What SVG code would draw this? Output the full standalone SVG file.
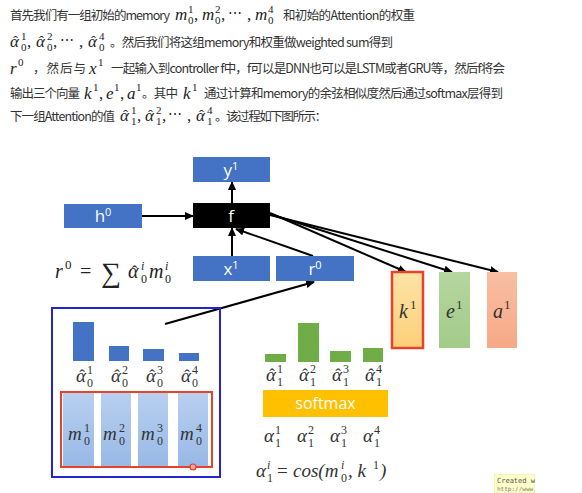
<svg xmlns="http://www.w3.org/2000/svg" width="582" height="493" viewBox="0 0 582 493">
<style>
.t{font-family:"Noto Sans CJK SC","Noto Sans",sans-serif;font-size:12.5px;fill:#333}
.m{font-family:"Liberation Serif","DejaVu Serif",serif;font-style:italic;font-size:17px;fill:#222}
.u{font-family:"Liberation Serif","DejaVu Serif",serif;font-size:17px;fill:#222}
.h{font-family:"Liberation Serif","DejaVu Serif",serif;font-size:15px;fill:#222;text-anchor:middle}
.hd{font-family:"Liberation Serif","DejaVu Serif",serif;font-size:17px;fill:#333;text-anchor:middle}
.s{font-family:"Liberation Serif","DejaVu Serif",serif;font-size:11px;fill:#222}
.si{font-family:"Liberation Serif","DejaVu Serif",serif;font-style:italic;font-size:11px;fill:#222}
.d{font-family:"DejaVu Serif",serif;font-size:14px;fill:#222}
.bx{fill:#4472c4}
.bt{font-family:"Open Sans","Liberation Sans",sans-serif;font-size:17px;fill:#fff;text-anchor:middle}
.bs{font-size:11px}
.ln{stroke:#000;stroke-width:2;fill:none}
.dm{font-family:"Liberation Serif","DejaVu Serif",serif;font-style:italic;font-size:19px;fill:#333}
.ds{font-family:"Liberation Serif","DejaVu Serif",serif;font-size:12px;fill:#333}
.dsi{font-family:"Liberation Serif","DejaVu Serif",serif;font-style:italic;font-size:12px;fill:#333}
.mb{fill:url(#gm)}
</style>
<defs>
<marker id="ah" markerWidth="9" markerHeight="8" refX="8" refY="4" orient="auto" markerUnits="userSpaceOnUse">
<path d="M0,0 L9,4 L0,8 Z" fill="#000"/>
</marker>
<linearGradient id="gm" x1="0" y1="0" x2="0" y2="1">
<stop offset="0" stop-color="#b9cff0"/><stop offset="1" stop-color="#97b9e6"/>
</linearGradient>
<linearGradient id="gk" x1="0" y1="0" x2="0" y2="1">
<stop offset="0" stop-color="#fde3a6"/><stop offset="1" stop-color="#fcd07a"/>
</linearGradient>
<linearGradient id="ge" x1="0" y1="0" x2="0" y2="1">
<stop offset="0" stop-color="#b5d6a0"/><stop offset="1" stop-color="#a3cb88"/>
</linearGradient>
<linearGradient id="ga" x1="0" y1="0" x2="0" y2="1">
<stop offset="0" stop-color="#f9bea2"/><stop offset="1" stop-color="#f6a986"/>
</linearGradient>
<clipPath id="cw"><rect x="494" y="474" width="41" height="19"/></clipPath>
</defs>

<g id="paragraph">
<!-- line 1 -->
<text class="t" x="10" y="20" textLength="160" lengthAdjust="spacing">首先我们有一组初始的memory</text>
<text class="m" x="175" y="20">m</text><text class="s" x="188" y="13">1</text><text class="s" x="188" y="24">0</text><text class="u" x="194" y="20">,</text>
<text class="m" x="202" y="20">m</text><text class="s" x="215" y="13">2</text><text class="s" x="215" y="24">0</text><text class="u" x="221" y="20">,</text>
<text class="d" x="228" y="18">⋯</text><text class="u" x="247" y="20">,</text>
<text class="m" x="255" y="20">m</text><text class="s" x="268" y="13">4</text><text class="s" x="268" y="24">0</text>
<text class="t" x="283" y="20" textLength="132" lengthAdjust="spacing">和初始的Attention的权重</text>
<!-- line 2 -->
<text class="m" x="10" y="47">α</text><text class="h" x="15.5" y="46">ˆ</text><text class="s" x="21" y="40">1</text><text class="s" x="21" y="51">0</text><text class="u" x="27" y="47">,</text>
<text class="m" x="36" y="47">α</text><text class="h" x="41.5" y="46">ˆ</text><text class="s" x="47" y="40">2</text><text class="s" x="47" y="51">0</text><text class="u" x="53" y="47">,</text>
<text class="d" x="60" y="45">⋯</text><text class="u" x="79" y="47">,</text>
<text class="m" x="88" y="47">α</text><text class="h" x="93.5" y="46">ˆ</text><text class="s" x="99" y="40">4</text><text class="s" x="99" y="51">0</text>
<text class="t" x="110" y="47" textLength="283" lengthAdjust="spacing">。然后我们将这组memory和权重做weighted sum得到</text>
<!-- line 3 -->
<text class="m" x="10" y="74">r</text><text class="s" x="18" y="66">0</text>
<text class="t" x="33" y="73" textLength="53" lengthAdjust="spacing">，然后与</text>
<text class="m" x="89" y="74">x</text><text class="s" x="98" y="66">1</text>
<text class="t" x="111" y="73" textLength="394" lengthAdjust="spacing">一起输入到controller f中，f可以是DNN也可以是LSTM或者GRU等，然后f将会</text>
<!-- line 4 -->
<text class="t" x="10" y="98" textLength="70" lengthAdjust="spacing">输出三个向量</text>
<text class="m" x="84" y="99">k</text><text class="s" x="93" y="91">1</text><text class="u" x="99" y="99">,</text>
<text class="m" x="106" y="99">e</text><text class="s" x="114" y="91">1</text><text class="u" x="120" y="99">,</text>
<text class="m" x="127" y="99">a</text><text class="s" x="136" y="91">1</text>
<text class="t" x="142" y="98" textLength="36" lengthAdjust="spacing">。其中</text>
<text class="m" x="183" y="99">k</text><text class="s" x="192" y="91">1</text>
<text class="t" x="204" y="98" textLength="299" lengthAdjust="spacing">通过计算和memory的余弦相似度然后通过softmax层得到</text>
<!-- line 5 -->
<text class="t" x="10" y="121" textLength="105" lengthAdjust="spacing">下一组Attention的值</text>
<text class="m" x="120" y="121">α</text><text class="h" x="125.5" y="120">ˆ</text><text class="s" x="131" y="114">1</text><text class="s" x="131" y="125">1</text><text class="u" x="137" y="121">,</text>
<text class="m" x="145" y="121">α</text><text class="h" x="150.5" y="120">ˆ</text><text class="s" x="156" y="114">2</text><text class="s" x="156" y="125">1</text><text class="u" x="162" y="121">,</text>
<text class="d" x="168" y="119">⋯</text><text class="u" x="187" y="121">,</text>
<text class="m" x="196" y="121">α</text><text class="h" x="201.5" y="120">ˆ</text><text class="s" x="207" y="114">4</text><text class="s" x="207" y="125">1</text>
<text class="t" x="215" y="121" textLength="112" lengthAdjust="spacing">。该过程如下图所示：</text>
</g>

<g id="connectors">
<line class="ln" x1="142" y1="216" x2="193" y2="216" marker-end="url(#ah)"/>
<line class="ln" x1="232" y1="203" x2="232" y2="182" marker-end="url(#ah)"/>
<line class="ln" x1="232" y1="256" x2="232" y2="228" marker-end="url(#ah)"/>
<line class="ln" x1="313" y1="256" x2="236" y2="229" marker-end="url(#ah)"/>
<line class="ln" x1="270" y1="213" x2="406" y2="272" marker-end="url(#ah)"/>
<line class="ln" x1="270" y1="214" x2="452" y2="272" marker-end="url(#ah)"/>
<line class="ln" x1="270" y1="215" x2="498" y2="272" marker-end="url(#ah)"/>
<line class="ln" x1="165" y1="324" x2="314" y2="282" marker-end="url(#ah)"/>
</g>

<g id="node-y1"><rect class="bx" x="193" y="157" width="77" height="25"/><text class="bt" x="231" y="176">y<tspan class="bs" dy="-6">1</tspan></text></g>
<g id="node-f"><rect fill="#000" x="193" y="203" width="77" height="25"/><text class="bt" x="231" y="222">f</text></g>
<g id="node-h0"><rect class="bx" x="64" y="204" width="78" height="24"/><text class="bt" x="103" y="222">h<tspan class="bs" dy="-6">0</tspan></text></g>
<g id="node-x1"><rect class="bx" x="193" y="256" width="77" height="25"/><text class="bt" x="231" y="275">x<tspan class="bs" dy="-6">1</tspan></text></g>
<g id="node-r0"><rect class="bx" x="276" y="256" width="78" height="25"/><text class="bt" x="315" y="275">r<tspan class="bs" dy="-6">0</tspan></text></g>

<g id="formula-r0">
<text class="m" x="55" y="278" style="font-size:20px">r</text><text class="s" x="65" y="269" style="font-size:13px">0</text>
<text class="u" x="80" y="278" style="font-size:20px">=</text>
<text class="u" x="101" y="282" style="font-size:28px">∑</text>
<text class="m" x="128" y="278" style="font-size:20px">α</text><text class="h" x="134.5" y="277" style="font-size:17px">ˆ</text><text class="si" x="141" y="270" style="font-size:12px">i</text><text class="s" x="141" y="283" style="font-size:12px">0</text>
<text class="m" x="149" y="278" style="font-size:20px">m</text><text class="si" x="165" y="270" style="font-size:12px">i</text><text class="s" x="165" y="283" style="font-size:12px">0</text>
</g>

<g id="node-k1"><rect x="392" y="272" width="31" height="76" fill="url(#gk)" stroke="#e8412c" stroke-width="2.5"/><text class="dm" x="399" y="318" style="font-size:20px">k</text><text class="ds" x="410" y="309" style="font-size:13px">1</text></g>
<g id="node-e1"><rect x="439" y="272" width="31" height="76" fill="url(#ge)"/><text class="dm" x="446" y="318" style="font-size:20px">e</text><text class="ds" x="456" y="309" style="font-size:13px">1</text></g>
<g id="node-a1"><rect x="487" y="272" width="30" height="76" fill="url(#ga)"/><text class="dm" x="493" y="318" style="font-size:20px">a</text><text class="ds" x="504" y="309" style="font-size:13px">1</text></g>

<g id="memory-group">
<rect x="52" y="308" width="168" height="169" fill="none" stroke="#2424d0" stroke-width="2"/>
<rect class="bx" x="73" y="322" width="21" height="39"/>
<rect class="bx" x="109" y="346" width="20" height="15"/>
<rect class="bx" x="143" y="349" width="21" height="12"/>
<rect class="bx" x="179" y="353" width="20" height="8"/>
<text class="dm" x="76" y="382">α</text><text class="hd" x="82" y="381">ˆ</text><text class="ds" x="87" y="374">1</text><text class="ds" x="87" y="387">0</text>
<text class="dm" x="111" y="382">α</text><text class="hd" x="117" y="381">ˆ</text><text class="ds" x="122" y="374">2</text><text class="ds" x="122" y="387">0</text>
<text class="dm" x="146" y="382">α</text><text class="hd" x="152" y="381">ˆ</text><text class="ds" x="157" y="374">3</text><text class="ds" x="157" y="387">0</text>
<text class="dm" x="181" y="382">α</text><text class="hd" x="187" y="381">ˆ</text><text class="ds" x="192" y="374">4</text><text class="ds" x="192" y="387">0</text>
<rect class="mb" x="63" y="393" width="31" height="73"/>
<rect class="mb" x="101" y="393" width="30" height="73"/>
<rect class="mb" x="138" y="393" width="30" height="73"/>
<rect class="mb" x="178" y="393" width="30" height="73"/>
<rect x="61" y="392" width="151" height="75" fill="none" stroke="#e8412c" stroke-width="2"/>
<text class="dm" x="68" y="440">m</text><text class="ds" x="84" y="432">1</text><text class="ds" x="84" y="445">0</text>
<text class="dm" x="103" y="440">m</text><text class="ds" x="119" y="432">2</text><text class="ds" x="119" y="445">0</text>
<text class="dm" x="141" y="440">m</text><text class="ds" x="157" y="432">3</text><text class="ds" x="157" y="445">0</text>
<text class="dm" x="180" y="440">m</text><text class="ds" x="196" y="432">4</text><text class="ds" x="196" y="445">0</text>
<circle cx="193" cy="467" r="3" fill="#f3a0a0" stroke="#e8412c" stroke-width="1.2"/>
</g>

<g id="attention-new">
<rect x="265" y="354" width="21" height="8" fill="#70ad47"/>
<rect x="298" y="323" width="21" height="39" fill="#70ad47"/>
<rect x="330" y="351" width="21" height="11" fill="#70ad47"/>
<rect x="363" y="348" width="20" height="14" fill="#70ad47"/>
<text class="dm" x="266" y="381">α</text><text class="hd" x="272" y="380">ˆ</text><text class="ds" x="277" y="373">1</text><text class="ds" x="277" y="386">1</text>
<text class="dm" x="299" y="381">α</text><text class="hd" x="305" y="380">ˆ</text><text class="ds" x="310" y="373">2</text><text class="ds" x="310" y="386">1</text>
<text class="dm" x="332" y="381">α</text><text class="hd" x="338" y="380">ˆ</text><text class="ds" x="343" y="373">3</text><text class="ds" x="343" y="386">1</text>
<text class="dm" x="365" y="381">α</text><text class="hd" x="371" y="380">ˆ</text><text class="ds" x="376" y="373">4</text><text class="ds" x="376" y="386">1</text>
</g>

<g id="node-softmax"><rect x="263" y="390" width="125" height="27" fill="#ffc000"/><text class="bt" x="325.5" y="409" style="font-size:16px">softmax</text></g>

<g id="alpha-raw">
<text class="dm" x="264" y="442">α</text><text class="ds" x="275" y="434">1</text><text class="ds" x="275" y="447">1</text>
<text class="dm" x="297" y="442">α</text><text class="ds" x="308" y="434">2</text><text class="ds" x="308" y="447">1</text>
<text class="dm" x="330" y="442">α</text><text class="ds" x="341" y="434">3</text><text class="ds" x="341" y="447">1</text>
<text class="dm" x="363" y="442">α</text><text class="ds" x="374" y="434">4</text><text class="ds" x="374" y="447">1</text>
</g>

<g id="formula-cos">
<text class="dm" x="256" y="477">α</text><text class="dsi" x="267" y="469">i</text><text class="ds" x="267" y="482">1</text>
<text class="u" x="277" y="477" style="font-size:19px;fill:#333">=</text>
<text class="dm" x="293" y="477">cos(m</text><text class="dsi" x="341" y="469">i</text><text class="ds" x="341" y="482">0</text>
<text class="dm" x="348" y="477">, k</text><text class="ds" x="373" y="469">1</text><text class="dm" x="380" y="477">)</text>
</g>

<g id="watermark" clip-path="url(#cw)">
<rect x="494" y="474" width="41" height="19" fill="#ffffc8" stroke="#d8d8a0" stroke-width="0.6"/>
<text x="497" y="483" style="font-family:'DejaVu Sans Mono',monospace;font-size:7px;fill:#555">Created w</text>
<text x="497" y="491" style="font-family:'DejaVu Sans Mono',monospace;font-size:6px;fill:#777">http://www</text>
</g>
</svg>
